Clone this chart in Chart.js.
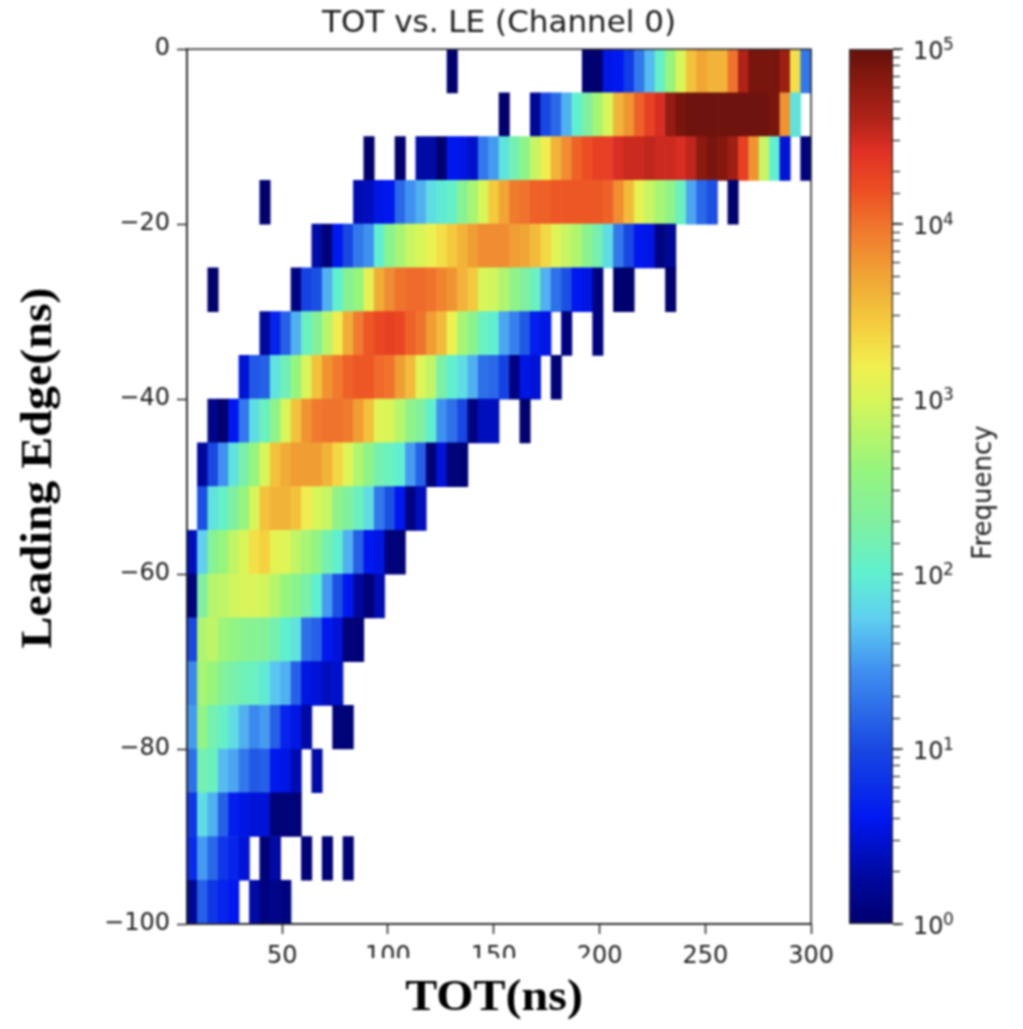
<!DOCTYPE html>
<html>
<head>
<meta charset="utf-8">
<script src="https://cdn.jsdelivr.net/npm/chart.js@4/dist/chart.umd.min.js"></script>
<style>
  html, body { margin: 0; padding: 0; background: #fff; }
  canvas { position: absolute; top: 0; filter: blur(0.8px); }
  #heatmap { left: 0; }
  #colorbar { left: 840px; }
</style>
</head>
<body>
<canvas id="heatmap" width="842" height="1029"></canvas>
<canvas id="colorbar" width="183" height="1029"></canvas>
<script>
const _ = null;

const TITLE = "TOT vs. LE (Channel 0)";
const X_LABEL = "TOT(ns)";
const Y_LABEL = "Leading Edge(ns)";
const CBAR_LABEL = "Frequency";

// histogram bins
const TOT_MIN = 5;
const TOT_MAX = 300;
const TOT_BINS = 60;
const LE_STEP = 5;

// first TOT bin of each row, top row first
const rowStart = [25, 30, 17, 7, 12, 2, 7, 5, 2, 1, 1, 0, 0, 0, 0, 0, 0, 0, 0, 0];

// log10(frequency) per bin, _ = empty bin
const row0 = [0, _, _, _, _, _, _, _, _, _, _, _, _, 0, 0, .55, .6, .9, 1.3, 1.65, 2.05, 2.6, 3, 3.5, 3.7, 3.6, 3.6, 4, 4.6, 4.9, 4.9, 4.9, 4.7, 3.3, 1.3];
const row1 = [0, _, _, .2, 1, 1.2, 1.6, 2, 2.3, 2.7, 3, 3.6, 3.8, 4.1, 4.3, 4.45, 4.75, 4.9, 4.95, 4.95, 4.95, 4.95, 4.95, 4.95, 4.95, 4.95, 4.9, 3.8, 1.9];
const row2 = [0, _, _, 0, _, .3, .3, 0, .6, .55, .45, 1.3, 1.5, 1.9, 2.2, 2.5, 2.9, 3.2, 3.6, 3.85, 4.1, 4.2, 4.3, 4.3, 4.45, 4.5, 4.5, 4.55, 4.5, 4.5, 4.45, 4.55, 4.8, 4.9, 4.85, 4.7, 4.3, 3.8, 2.9, 2, .5, _, .1];
const row3 = [0, _, _, _, _, _, _, _, _, .35, .4, .55, .6, 1.2, 1.45, 1.6, 1.85, 1.95, 2.05, 2.4, 2.7, 3, 3.45, 3.7, 3.95, 4, 4.1, 4.1, 4.15, 4.15, 4.15, 4.15, 4.15, 4.1, 3.85, 3.55, 3.1, 2.9, 2.7, 2.5, 2.1, 1.55, 1.2, 1.05, _, 0];
const row4 = [.3, .05, .6, 1, 1.3, 1.45, 2, 2.45, 2.7, 2.9, 3, 3.15, 3.3, 3.45, 3.6, 3.75, 3.85, 3.85, 3.85, 3.75, 3.7, 3.55, 3.35, 3.05, 2.9, 2.75, 2.45, 2.2, 1.85, 1.3, 1, .6, .55, .1, .2];
const row5 = [0, _, _, _, _, _, _, _, .1, .95, 1.05, 1.6, 2, 2.4, 2.6, 3.1, 3.65, 3.85, 4, 4.05, 4.05, 4, 3.9, 3.8, 3.6, 3.45, 3, 2.95, 2.75, 2.5, 2.3, 2.1, 1.6, 1.25, 1.05, .6, .55, .1, _, 0, 0, _, _, _, 0];
const row6 = [.25, .7, 1.15, 1.6, 2.1, 2.35, 2.8, 3.2, 3.65, 3.95, 4.15, 4.25, 4.3, 4.25, 4.1, 4, 3.75, 3.55, 3.15, 2.7, 2.45, 2.1, 2, 1.55, 1.35, 1.1, .65, .55, _, .1, _, _, .1];
const row7 = [.5, 1.1, 1.15, 1.9, 2.15, 2.6, 3, 3.5, 3.8, 3.95, 4.1, 4.15, 4.15, 4.05, 4, 3.75, 3.55, 3.05, 2.85, 2.25, 2, 1.85, 1.6, 1.25, 1.2, .95, .1, .55, .5, _, .05];
const row8 = [.15, 0, .6, 1.3, 1.85, 2.1, 2.5, 3, 3.5, 3.8, 3.95, 4, 4, 3.95, 3.75, 3.5, 3.05, 3, 2.8, 2.5, 2.3, 2, 1.45, 1.25, 1, .1, .4, .4, _, _, 0];
const row9 = [.25, 1, 1.45, 1.9, 2.25, 2.6, 3, 3.5, 3.65, 3.75, 3.75, 3.75, 3.6, 3.35, 3.05, 2.75, 2.5, 2.2, 2.1, 2, 1.5, 1.15, .05, .5, .05, .05];
const row10 = [1.05, 1.9, 2.05, 2.3, 2.6, 3, 3.5, 3.6, 3.6, 3.5, 3.2, 3, 2.9, 2.5, 2.3, 2.1, 1.85, 1.3, 1.05, .6, .1, .4];
const row11 = [.4, 1.75, 2.4, 2.6, 2.85, 3, 3.3, 3.4, 3.1, 3.05, 2.85, 2.7, 2.55, 2.2, 2, 1.6, 1.15, .6, .55, .05, .05];
const row12 = [.1, 2.3, 2.8, 2.85, 2.95, 3, 3, 2.95, 2.8, 2.6, 2.45, 2.25, 2, 1.5, 1.05, .6, .25, .05, .35];
const row13 = [1, 2.75, 2.85, 2.65, 2.55, 2.45, 2.4, 2.35, 2.2, 2, 1.9, 1.25, 1.15, .6, .5, .05, .05];
const row14 = [1.4, 2.7, 2.6, 2.35, 2.25, 2.15, 2.1, 1.95, 1.7, 1.6, 1.15, .55, .5, .4, .45];
const row15 = [1.5, 2.55, 2.2, 2.05, 1.85, 1.6, 1.4, 1.5, 1.15, .7, .55, .3, _, _, .05, .05];
const row16 = [1.25, 2.2, 2.1, 1.65, 1.55, 1.3, 1.1, 1.15, .6, .55, .35, _, .3];
const row17 = [.85, 1.85, 1.6, 1.15, .65, .55, .5, .5, .05, .05, .05];
const row18 = [.75, 1.5, 1.2, .85, .7, .5, _, .05, .3, _, _, .05, _, .05, _, .05];
const row19 = [.2, 1.15, .85, .7, .6, _, .3, .1, .15, .1];

const rows = [row0, row1, row2, row3, row4, row5, row6, row7, row8, row9,
              row10, row11, row12, row13, row14, row15, row16, row17, row18, row19];

const LOG_MAX = 5;
const TEXT_COLOR = "#1c1c1c";
const SANS = "'DejaVu Sans'";
const SERIF = "'Liberation Serif'";

// colormap as it looks in the picture (a washed out jet), log10 position -> rgb
const cmapPos = [0, .3, .6, 1, 1.45, 1.75, 2, 2.3, 2.6, 3, 3.18, 3.4, 3.7, 4, 4.2, 4.42, 4.6, 4.85, 5];
const cmapRgb = [
  [0, 0, 110], [0, 10, 165], [0, 24, 240], [24, 72, 225], [64, 144, 240], [96, 208, 240], [96, 240, 208],
  [128, 240, 160], [150, 245, 125], [216, 245, 90], [240, 240, 80], [245, 208, 64], [240, 165, 53],
  [240, 115, 45], [236, 78, 35], [224, 48, 37], [176, 35, 24], [130, 24, 14], [100, 16, 12]
];

function cmap(v) {
  let i = 1;
  while (i < cmapPos.length - 1 && v > cmapPos[i]) i++;
  const f = (v - cmapPos[i - 1]) / (cmapPos[i] - cmapPos[i - 1]);
  const c = cmapRgb[i - 1].map((a, j) => Math.round(a + (cmapRgb[i][j] - a) * f));
  return `rgb(${c[0]},${c[1]},${c[2]})`;
}

function buildCells() {
  const binWidth = (TOT_MAX - TOT_MIN) / TOT_BINS;
  const cells = [];
  const colors = [];
  rows.forEach((row, r) => {
    row.forEach((v, i) => {
      if (v === null) return;
      const bin = rowStart[r] + i;
      cells.push({
        x: TOT_MIN + (bin + 0.5) * binWidth,
        y: [-LE_STEP * (r + 1), -LE_STEP * r]
      });
      colors.push(cmap(v));
    });
  });
  return {cells, colors};
}

// frame, the two pasted serif axis labels and the white patch behind the x label
const framePlugin = {
  id: "frame",
  afterDraw(chart) {
    const {ctx, chartArea: a} = chart;
    ctx.save();
    ctx.strokeStyle = "#222";
    ctx.lineWidth = 1.5;
    ctx.strokeRect(a.left, a.top, a.right - a.left, a.bottom - a.top);

    ctx.fillStyle = "#fff";
    ctx.fillRect(355, 958, 235, 14);

    ctx.fillStyle = "#000";
    ctx.textAlign = "center";
    ctx.textBaseline = "middle";
    ctx.font = "bold 44px " + SERIF;

    ctx.save();
    ctx.translate(494, 999);
    ctx.scale(1.09, 1);
    ctx.fillText(X_LABEL, 0, 0);
    ctx.restore();

    ctx.translate(40, 468);
    ctx.rotate(-Math.PI / 2);
    ctx.scale(1.09, 1);
    ctx.fillText(Y_LABEL, 0, 0);
    ctx.restore();
  }
};

const {cells, colors} = buildCells();

new Chart(document.getElementById("heatmap"), {
  type: "bar",
  data: {
    datasets: [{
      data: cells,
      backgroundColor: colors,
      borderWidth: 0,
      barPercentage: 1,
      categoryPercentage: 1,
      grouped: false
    }]
  },
  options: {
    responsive: false,
    animation: false,
    events: [],
    layout: {padding: {left: 0, right: 27, top: 0, bottom: 45}},
    plugins: {
      legend: {display: false},
      tooltip: {enabled: false},
      title: {
        display: true,
        text: TITLE,
        fullSize: false,
        color: TEXT_COLOR,
        font: {family: SANS, size: 31, weight: "normal"},
        padding: {top: 5, bottom: 7}
      }
    },
    scales: {
      x: {
        type: "linear",
        min: TOT_MIN,
        max: TOT_MAX,
        offset: false,
        afterBuildTicks: scale => { scale.ticks = scale.ticks.filter(t => t.value % 50 === 0); },
        afterFit: scale => { scale.height = 60; },
        grid: {display: true, offset: false, drawOnChartArea: false, tickLength: 10, tickColor: "#222", tickWidth: 1.5},
        border: {color: "#222", width: 1.5},
        ticks: {stepSize: 50, autoSkip: false, maxRotation: 0, color: TEXT_COLOR,
                font: {family: SANS, size: 24}, padding: 8}
      },
      y: {
        type: "linear",
        min: -100,
        max: 0,
        afterFit: scale => { scale.width = 187; },
        grid: {display: true, drawOnChartArea: false, tickLength: 10, tickColor: "#222", tickWidth: 1.5},
        border: {color: "#222", width: 1.5},
        ticks: {stepSize: 20, color: TEXT_COLOR, font: {family: SANS, size: 24}, padding: 7,
                callback: v => String(v).replace("-", "\u2212")}
      }
    }
  },
  plugins: [framePlugin]
});

// colorbar
const CBAR_MIN = 1;
const CBAR_MAX = 100000;
const CBAR_MAJOR = [1, 10, 100, 1000, 10000, 100000];
const CBAR_EXPONENT = ["0", "1", "2", "3", "4", "5"];

function cmapGradient(context) {
  const {ctx, chartArea} = context.chart;
  if (!chartArea) return "#000";
  const g = ctx.createLinearGradient(0, chartArea.bottom, 0, chartArea.top);
  cmapPos.forEach(p => g.addColorStop(p / LOG_MAX, cmap(p)));
  return g;
}

// longer major ticks, 10^n labels and the label that reads bottom to top
const cbarPlugin = {
  id: "cbarExtras",
  afterDraw(chart) {
    const {ctx, scales: {y}, chartArea: a} = chart;
    ctx.save();
    ctx.strokeStyle = "#222";
    ctx.lineWidth = 1.5;
    ctx.fillStyle = TEXT_COLOR;
    ctx.textBaseline = "middle";
    ctx.textAlign = "left";
    CBAR_MAJOR.forEach((v, i) => {
      const py = y.getPixelForValue(v);
      ctx.beginPath();
      ctx.moveTo(a.right, py);
      ctx.lineTo(a.right + 10, py);
      ctx.stroke();
      ctx.font = "24px " + SANS;
      ctx.fillText("10", a.right + 20, py + 4);
      ctx.font = "17px " + SANS;
      ctx.fillText(CBAR_EXPONENT[i], a.right + 50, py - 3);
    });
    ctx.translate(144, y.getPixelForValue(300) + 2);
    ctx.rotate(-Math.PI / 2);
    ctx.textAlign = "center";
    ctx.font = "26px " + SANS;
    ctx.fillText(CBAR_LABEL, 0, 0);
    ctx.restore();
  }
};

new Chart(document.getElementById("colorbar"), {
  type: "bar",
  data: {
    labels: [CBAR_LABEL],
    datasets: [{
      data: [[CBAR_MIN, CBAR_MAX]],
      backgroundColor: cmapGradient,
      borderColor: "#222",
      borderWidth: 1.5,
      borderSkipped: false,
      barPercentage: 1,
      categoryPercentage: 1
    }]
  },
  options: {
    responsive: false,
    animation: false,
    events: [],
    layout: {padding: {left: 9, right: 27, top: 49, bottom: 105}},
    plugins: {legend: {display: false}, tooltip: {enabled: false}},
    scales: {
      x: {display: false},
      y: {
        type: "logarithmic",
        position: "right",
        min: CBAR_MIN,
        max: CBAR_MAX,
        afterFit: scale => { scale.width = 103; },
        grid: {display: true, drawOnChartArea: false, tickLength: 7, tickColor: "#222", tickWidth: 1.2},
        border: {display: false},
        ticks: {autoSkip: false, callback: () => ""}
      }
    }
  },
  plugins: [cbarPlugin]
});
</script>
</body>
</html>
